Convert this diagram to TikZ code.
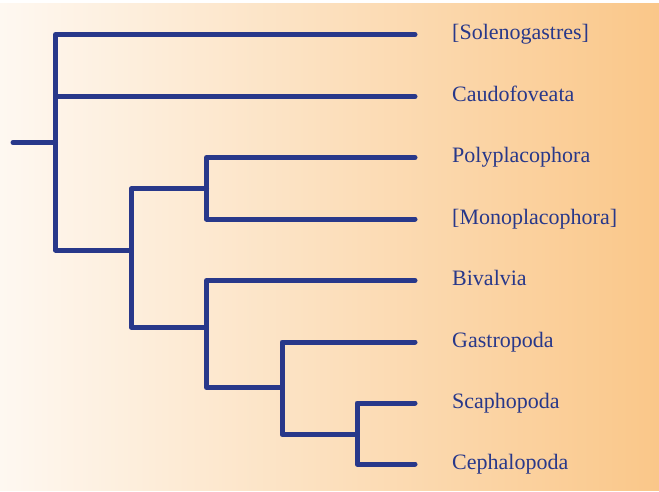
\documentclass[tikz,border=0pt]{standalone}
\usepackage{fontspec}
\setmainfont{Liberation Serif}
\usepackage{tikz}
\usetikzlibrary{positioning}

\definecolor{cladeblue}{RGB}{40,56,138}
\definecolor{paleleft}{RGB}{254,248,241}
\definecolor{orangeright}{RGB}{250,199,137}

\begin{document}
\begin{tikzpicture}[
  x=1pt, y=-1pt,
  branch/.style={draw=cladeblue, line width=5pt, line cap=round, line join=round},
  taxon/.style={inner sep=0pt, text height=16.2pt, text depth=5.4pt, font=\fontsize{22}{26}\selectfont, text=cladeblue}
]
\useasboundingbox (0,0) rectangle (659,492);

% Background
\shade[left color=paleleft, right color=orangeright] (0,4) rectangle (659,490);

% Tips
\coordinate (sol)  at (415,34.5);
\coordinate (cau)  at (415,96.5);
\coordinate (poly) at (415,157.5);
\coordinate (mono) at (415,219);
\coordinate (biv)  at (415,280.5);
\coordinate (gas)  at (415,342);
\coordinate (sca)  at (415,403);
\coordinate (cep)  at (415,464);

% Internal nodes
\coordinate (base)      at (13,142.5);
\coordinate (root)      at (55.5,142.5);
\coordinate (testaria)  at (131,250);
\coordinate (polymono)  at (206.5,189);
\coordinate (conch)     at (206.5,327);
\coordinate (gastclade) at (282,387.5);
\coordinate (scaceph)   at (357,434.5);

% Taxa
\node[taxon, right=37pt of sol]  (solL)  {[Solenogastres]};
\node[taxon, right=37pt of cau]  (cauL)  {Caudofoveata};
\node[taxon, right=37pt of poly] (polyL) {Polyplacophora};
\node[taxon, right=37pt of mono] (monoL) {[Monoplacophora]};
\node[taxon, right=37pt of biv]  (bivL)  {Bivalvia};
\node[taxon, right=37pt of gas]  (gasL)  {Gastropoda};
\node[taxon, right=37pt of sca]  (scaL)  {Scaphopoda};
\node[taxon, right=37pt of cep]  (cepL)  {Cephalopoda};

% Branches
\draw[branch] (base) -- (root);
\draw[branch] (root) |- (sol);
\draw[branch] (root) |- (cau);
\draw[branch] (root) |- (testaria);

\draw[branch] (testaria) |- (polymono);
\draw[branch] (testaria) |- (conch);
\draw[branch] (polymono) |- (poly);
\draw[branch] (polymono) |- (mono);

\draw[branch] (conch) |- (biv);
\draw[branch] (conch) |- (gastclade);
\draw[branch] (gastclade) |- (gas);
\draw[branch] (gastclade) |- (scaceph);
\draw[branch] (scaceph) |- (sca);
\draw[branch] (scaceph) |- (cep);

\end{tikzpicture}
\end{document}
